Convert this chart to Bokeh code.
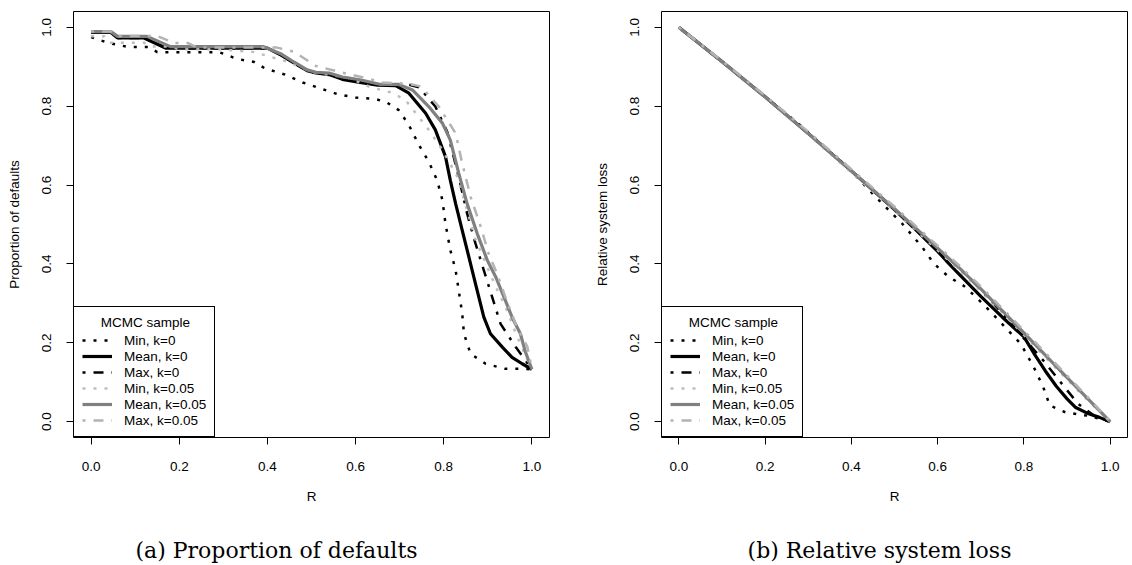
from bokeh.plotting import figure
from bokeh.layouts import row, column
from bokeh.models import FixedTicker, NumeralTickFormatter, Range1d
from bokeh.core.properties import value
from bokeh.embed import file_html
from bokeh.resources import INLINE

# ---------------- data ----------------
x_ticks = [0.0, 0.2, 0.4, 0.6, 0.8, 1.0]
y_ticks = [0.0, 0.2, 0.4, 0.6, 0.8, 1.0]
legend_title = "MCMC sample"
series_names = ["Min, k=0", "Mean, k=0", "Max, k=0", "Min, k=0.05", "Mean, k=0.05", "Max, k=0.05"]
captions = ["(a) Proportion of defaults", "(b) Relative system loss"]
y_labels = ["Proportion of defaults", "Relative system loss"]
x_label = "R"

# (a) Proportion of defaults
a_r_min0 = [0.00, 0.04, 0.085, 0.13, 0.15, 0.29, 0.31, 0.33, 0.37, 0.394, 0.44, 0.48, 0.52, 0.56, 0.60, 0.645, 0.67,
            0.698, 0.721, 0.744, 0.766, 0.785, 0.797, 0.804, 0.815, 0.827, 0.834, 0.842, 0.846, 0.861, 0.895, 0.94, 0.978, 1.00]
a_v_min0 = [0.975, 0.960, 0.950, 0.950, 0.937, 0.937, 0.929, 0.920, 0.912, 0.896, 0.880, 0.860, 0.845, 0.830, 0.822, 0.818, 0.810,
            0.790, 0.752, 0.701, 0.659, 0.612, 0.562, 0.502, 0.435, 0.384, 0.333, 0.274, 0.223, 0.172, 0.147, 0.134, 0.134, 0.133]

a_r_mean0 = [0.00, 0.045, 0.06, 0.12, 0.17, 0.40, 0.43, 0.46, 0.49, 0.51, 0.54, 0.57, 0.61, 0.65, 0.691, 0.721, 0.759, 0.781,
             0.804, 0.815, 0.827, 0.842, 0.857, 0.872, 0.891, 0.906, 0.933, 0.955, 0.978, 1.00]
a_v_mean0 = [0.987, 0.987, 0.973, 0.973, 0.947, 0.947, 0.930, 0.910, 0.890, 0.884, 0.880, 0.868, 0.860, 0.853, 0.852, 0.833, 0.782, 0.740,
             0.672, 0.612, 0.553, 0.485, 0.418, 0.350, 0.265, 0.223, 0.189, 0.163, 0.147, 0.133]

a_r_max0 = [0.00, 0.045, 0.06, 0.12, 0.17, 0.40, 0.43, 0.46, 0.49, 0.51, 0.54, 0.57, 0.61, 0.65, 0.72, 0.744, 0.781, 0.808,
            0.834, 0.853, 0.872, 0.891, 0.910, 0.929, 0.963, 0.989, 1.00]
a_v_max0 = [0.987, 0.987, 0.973, 0.973, 0.947, 0.947, 0.930, 0.910, 0.890, 0.884, 0.882, 0.870, 0.862, 0.855, 0.855, 0.848, 0.799, 0.735,
            0.621, 0.528, 0.452, 0.384, 0.316, 0.248, 0.190, 0.150, 0.133]

a_r_min5 = [0.00, 0.03, 0.04, 0.12, 0.135, 0.18, 0.20, 0.30, 0.37, 0.445, 0.50, 0.588, 0.634, 0.68, 0.713, 0.766, 0.797, 0.831,
            0.853, 0.872, 0.895, 0.918, 0.940, 0.963, 0.986, 1.00]
a_v_min5 = [0.977, 0.977, 0.961, 0.961, 0.951, 0.951, 0.944, 0.944, 0.937, 0.913, 0.887, 0.871, 0.848, 0.835, 0.816, 0.740, 0.689, 0.621,
            0.536, 0.462, 0.402, 0.342, 0.292, 0.226, 0.166, 0.133]

a_r_mean5 = [0.00, 0.045, 0.06, 0.127, 0.18, 0.39, 0.43, 0.46, 0.49, 0.51, 0.54, 0.57, 0.61, 0.657, 0.698, 0.729, 0.766, 0.797,
             0.815, 0.834, 0.853, 0.876, 0.899, 0.918, 0.940, 0.955, 0.974, 0.985, 1.00]
a_v_mean5 = [0.989, 0.989, 0.977, 0.977, 0.951, 0.951, 0.933, 0.912, 0.892, 0.886, 0.884, 0.874, 0.867, 0.855, 0.855, 0.841, 0.799, 0.757,
             0.714, 0.630, 0.553, 0.477, 0.409, 0.367, 0.307, 0.265, 0.223, 0.178, 0.133]

a_r_max5 = [0.00, 0.045, 0.06, 0.15, 0.19, 0.22, 0.24, 0.42, 0.46, 0.51, 0.57, 0.626, 0.66, 0.72, 0.748, 0.789, 0.827, 0.842,
            0.861, 0.884, 0.902, 0.921, 0.940, 0.963, 0.990, 1.00]
a_v_max5 = [0.989, 0.989, 0.978, 0.978, 0.960, 0.960, 0.949, 0.949, 0.938, 0.902, 0.885, 0.871, 0.860, 0.857, 0.850, 0.799, 0.731, 0.655,
            0.570, 0.494, 0.426, 0.375, 0.316, 0.248, 0.189, 0.133]

# (b) Relative system loss
b_r_min0 = [0.0, 0.1, 0.2, 0.278, 0.332, 0.386, 0.468, 0.518, 0.564, 0.591, 0.626, 0.66, 0.689, 0.727, 0.756, 0.793, 0.823,
            0.845, 0.86, 0.896, 0.949, 1.0]
b_v_min0 = [1.0, 0.913, 0.824, 0.755, 0.701, 0.651, 0.557, 0.502, 0.443, 0.401, 0.367, 0.345, 0.316, 0.274, 0.240, 0.197, 0.138,
            0.087, 0.041, 0.024, 0.015, 0.0]

b_r_mean0 = [0.0, 0.1, 0.2, 0.3, 0.4, 0.5, 0.55, 0.6, 0.62, 0.64, 0.7, 0.75, 0.8, 0.825, 0.85, 0.875, 0.9, 0.92, 0.95, 0.975, 1.0]
b_v_mean0 = [1.0, 0.913, 0.824, 0.731, 0.636, 0.538, 0.486, 0.432, 0.408, 0.385, 0.318, 0.265, 0.215, 0.170, 0.128, 0.090, 0.058,
             0.036, 0.020, 0.011, 0.0]

b_r_max0 = [0.0, 0.1, 0.2, 0.3, 0.4, 0.5, 0.6, 0.65, 0.7, 0.75, 0.801, 0.845, 0.882, 0.926, 0.963, 1.0]
b_v_max0 = [1.0, 0.913, 0.824, 0.731, 0.636, 0.540, 0.440, 0.390, 0.335, 0.275, 0.210, 0.155, 0.104, 0.045, 0.015, 0.0]

b_r_k5 = [0.0, 0.1, 0.2, 0.3, 0.4, 0.5, 0.6, 0.65, 0.7, 0.75, 0.8, 0.85, 0.9, 0.95, 1.0]
b_v_min5 = [1.0, 0.912, 0.822, 0.728, 0.632, 0.535, 0.435, 0.384, 0.331, 0.276, 0.220, 0.163, 0.107, 0.052, 0.0]
b_v_mean5 = [1.0, 0.913, 0.824, 0.731, 0.636, 0.540, 0.440, 0.390, 0.337, 0.281, 0.225, 0.168, 0.112, 0.056, 0.0]
b_v_max5 = [1.0, 0.915, 0.827, 0.735, 0.640, 0.545, 0.446, 0.396, 0.343, 0.287, 0.231, 0.174, 0.117, 0.060, 0.0]

# ---------------- styling ----------------
styles = [
    dict(line_color="black", line_width=2.5, line_dash="3 8"),
    dict(line_color="black", line_width=3.2, line_dash="solid"),
    dict(line_color="black", line_width=2.5, line_dash="3 8 10 8"),
    dict(line_color="#bebebe", line_width=2.5, line_dash="3 8"),
    dict(line_color="#808080", line_width=3.2, line_dash="solid"),
    dict(line_color="#b3b3b3", line_width=2.5, line_dash="3 8 10 8"),
]

SANS = "Liberation Sans"
FS = "13.5px"
TOP_B = 11
FRAME_H = 426
PLOT_H = 517
CAP_H = 565 - PLOT_H


def make_fig(width, left_b, right_b, ylabel, curves):
    p = figure(width=width, height=PLOT_H, output_backend="svg", toolbar_location=None,
               x_range=Range1d(-0.04, 1.04), y_range=Range1d(-0.04, 1.04),
               min_border_left=left_b, min_border_right=right_b,
               min_border_top=TOP_B, min_border_bottom=PLOT_H - TOP_B - FRAME_H)
    p.outline_line_color = "black"
    p.outline_line_width = 1
    p.outline_line_alpha = 1
    p.xgrid.visible = False
    p.ygrid.visible = False
    p.background_fill_color = "white"
    p.border_fill_color = "white"

    for ax in (p.xaxis[0], p.yaxis[0]):
        ax.axis_line_color = None
        ax.major_tick_in = 0
        ax.major_tick_out = 7
        ax.major_tick_line_color = "black"
        ax.minor_tick_line_color = None
        ax.major_label_text_font = SANS
        ax.major_label_text_font_size = FS
        ax.major_label_text_color = "black"
        ax.axis_label_text_font = SANS
        ax.axis_label_text_font_size = FS
        ax.axis_label_text_font_style = "normal"
        ax.axis_label_text_color = "black"
        ax.formatter = NumeralTickFormatter(format="0.0")

    p.xaxis[0].ticker = FixedTicker(ticks=x_ticks)
    p.yaxis[0].ticker = FixedTicker(ticks=y_ticks)
    p.xaxis[0].axis_label = x_label
    p.xaxis[0].major_label_standoff = 17
    p.xaxis[0].axis_label_standoff = 15
    p.yaxis[0].axis_label = ylabel
    p.yaxis[0].major_label_standoff = 15
    p.yaxis[0].axis_label_standoff = 18
    p.yaxis[0].major_label_orientation = "parallel"

    for (xs, ys), name, st in zip(curves, series_names, styles):
        p.line(xs, ys, legend_label=name, **st)

    lg = p.legend[0]
    lg.location = "bottom_left"
    lg.margin = 0
    lg.border_line_color = "black"
    lg.border_line_width = 1
    lg.border_line_alpha = 1
    lg.background_fill_color = "white"
    lg.background_fill_alpha = 1
    lg.padding = 8
    lg.spacing = 0
    lg.label_height = 16
    lg.glyph_height = 16
    lg.glyph_width = 30
    lg.label_standoff = 12
    lg.label_text_font = SANS
    lg.label_text_font_size = FS
    lg.label_text_color = "black"
    lg.title = "\u00a0\u00a0\u00a0\u00a0\u00a0" + legend_title
    lg.title_text_font = SANS
    lg.title_text_font_size = FS
    lg.title_text_font_style = "normal"
    lg.title_text_color = "black"
    lg.title_standoff = 2
    return p


def make_caption(width, text, cx, cy_from_top):
    c = figure(width=width, height=CAP_H, output_backend="svg", toolbar_location=None,
               x_range=Range1d(0, width), y_range=Range1d(0, CAP_H),
               x_axis_type=None, y_axis_type=None,
               min_border_left=0, min_border_right=0, min_border_top=0, min_border_bottom=0)
    c.outline_line_color = None
    c.xgrid.visible = False
    c.ygrid.visible = False
    c.background_fill_color = "white"
    c.border_fill_color = "white"
    c.text(x=[cx], y=[CAP_H - cy_from_top], text=[text], text_font=value("DejaVu Serif"),
           text_font_size=value("22px"), text_color="black",
           text_align="center", text_baseline="middle")
    return c


curves_a = [(a_r_min0, a_v_min0), (a_r_mean0, a_v_mean0), (a_r_max0, a_v_max0),
            (a_r_min5, a_v_min5), (a_r_mean5, a_v_mean5), (a_r_max5, a_v_max5)]
curves_b = [(b_r_min0, b_v_min0), (b_r_mean0, b_v_mean0), (b_r_max0, b_v_max0),
            (b_r_k5, b_v_min5), (b_r_k5, b_v_mean5), (b_r_k5, b_v_max5)]

W1, W2 = 589, 543
p1 = make_fig(W1, 73, W1 - 73 - 476, y_labels[0], curves_a)
p2 = make_fig(W2, 72, W2 - 72 - 466, y_labels[1], curves_b)
c1 = make_caption(W1, captions[0], 276, 550 - PLOT_H)
c2 = make_caption(W2, captions[1], 879 - W1, 550 - PLOT_H)

layout = column(row(p1, p2), row(c1, c2))
open("out.html", "w").write(file_html(layout, INLINE))
